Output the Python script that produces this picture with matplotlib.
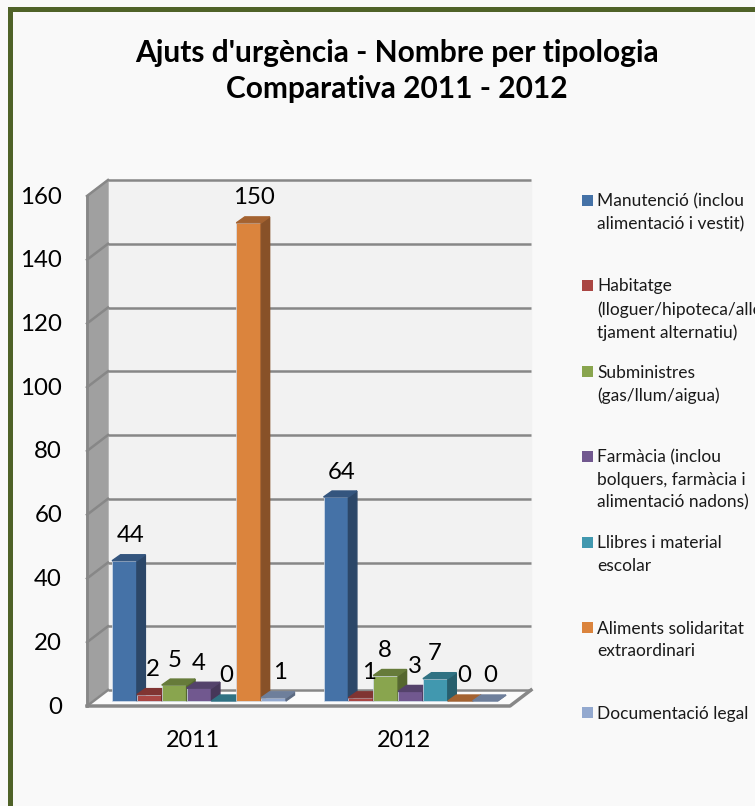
import matplotlib
matplotlib.use('Agg')
import matplotlib.pyplot as plt
from matplotlib.patches import Rectangle

plt.rcParams['font.family'] = ['Lato', 'DejaVu Sans']

W, H = 755, 806

years = ['2011', '2012']
tipologies = [
    'Manutenció (inclou\nalimentació i vestit)',
    'Habitatge\n(lloguer/hipoteca/allo\ntjament alternatiu)',
    'Subministres\n(gas/llum/aigua)',
    'Farmàcia (inclou\nbolquers, farmàcia i\nalimentació nadons)',
    'Llibres i material\nescolar',
    'Aliments solidaritat\nextraordinari',
    'Documentació legal',
]
values_2011 = [44, 2, 5, 4, 0, 150, 1]
values_2012 = [64, 1, 8, 3, 7, 0, 0]
y_ticks = [0, 20, 40, 60, 80, 100, 120, 140, 160]

colors = ['#4572a7', '#aa4643', '#89a54e', '#71588f', '#4198af', '#db843d', '#93a9cf']
tops = ['#34557e', '#803432', '#667b3a', '#54426b', '#307283', '#a46230', '#6e7f9b']
sides = ['#2c4768', '#6b2c2a', '#55672f', '#463759', '#285f6d', '#885128', '#5c6a81']

# posicions en pixels de la figura
legend_y = [200, 285, 371, 456, 542, 627, 712]
label_dx = [[6, 4, 0, 0, 2, 5, 6], [6, 8, -1, 4, -1, 4, 5]]

fig = plt.figure(figsize=(W / 100, H / 100), dpi=100, facecolor='#f9f9f9')

# marc
fig.add_artist(Rectangle((9.5 / W, -0.02), 1, 1 - 8.5 / H + 0.02, transform=fig.transFigure,
                         facecolor='#f9f9f9', edgecolor='#4f6228', linewidth=3.6, zorder=-1))

ax = fig.add_axes([92 / W, 1 - 701 / H, 423 / W, 510 / H])
ax.set_xlim(-0.5, 1.5)
ax.set_ylim(0, 160)
ax.axis('off')

px = 2 / 423  # un pixel en unitats x
py = 160 / 510  # un pixel en unitats y
x0, x1 = -0.5, 1.5
back_x, back_y = 16 * px, 11 * py
front_x, front_y = -5 * px, -5 * py

# parets
ax.fill([x0 + back_x, x1 + back_x, x1 + back_x, x0 + back_x],
        [back_y, back_y, 160 + back_y, 160 + back_y], color='#f2f2f2', clip_on=False, zorder=1)
ax.fill([x0 + front_x, x0 + back_x, x0 + back_x, x0 + front_x],
        [front_y, back_y, 160 + back_y, 160 + front_y], color='#a0a0a0', clip_on=False, zorder=1)
ax.fill([x0 + front_x, x1 + front_x, x1 + back_x, x0 + back_x],
        [front_y, front_y, back_y, back_y], color='#fbfbfb', clip_on=False, zorder=1)

grid = '#878787'
for t in y_ticks:
    ax.plot([x0 + back_x, x1 + back_x], [t + back_y, t + back_y], color=grid, lw=1.8,
            clip_on=False, zorder=2, solid_capstyle='butt')
    ax.plot([x0 + front_x, x0 + back_x], [t + front_y, t + back_y], color=grid, lw=1.8,
            clip_on=False, zorder=2)
    ax.text(x0 - 30 * px, t - 6 * py, str(t), ha='right', va='center', fontsize=17.3,
            color='black')
ax.plot([x0 + front_x, x0 + front_x], [front_y, 160 + front_y], color=grid, lw=2, clip_on=False, zorder=2)
ax.plot([x0 + front_x, x1 + front_x, x1 + back_x], [front_y, front_y, back_y], color=grid, lw=2.5,
        clip_on=False, zorder=2)

# barres
bw = 24.85 * px
dx, dy = 8.5 * px, 6 * py
n = len(tipologies)
for g, vals in enumerate([values_2011, values_2012]):
    for i, v in enumerate(vals):
        l = g + 0.006 + (i - n / 2) * bw
        r = l + bw
        ax.bar(l, v, width=bw, align='edge', color=colors[i], clip_on=False, zorder=3 + i * 0.1,
               edgecolor='#d5dfec', linewidth=0.5)
        ax.fill([r, r + dx, r + dx, r], [0, dy, v + dy, v], color=sides[i], clip_on=False, zorder=3 + i * 0.1)
        ax.fill([l, l + dx, r + dx, r], [v, v + dy, v + dy, v], color=tops[i], clip_on=False, zorder=3 + i * 0.1)
        ax.annotate(str(v), ((l + r) / 2, v), xytext=(label_dx[g][i] * 0.72, 18), textcoords='offset points',
                    ha='center', va='center', fontsize=17.3, color='black', zorder=10, annotation_clip=False)
    ax.text(g - 5 * px, -39.5 * py, years[g], ha='center', va='center', fontsize=16.8, color='black', clip_on=False)

# titol
fig.text(397 / W, 1 - 71 / H, "Ajuts d'urgència - Nombre per tipologia\nComparativa 2011 - 2012",
         ha='center', va='center', fontsize=21.5, fontweight='bold', linespacing=1.35, color='black')

# llegenda
for name, c, ly in zip(tipologies, colors, legend_y):
    fig.add_artist(Rectangle((582 / W, 1 - (ly + 5.5) / H), 11 / W, 11 / H,
                             transform=fig.transFigure, facecolor=c, edgecolor='none'))
    fig.text(597 / W, 1 - (ly - 6.5) / H, name, ha='left', va='top', fontsize=12.5, linespacing=1.5,
             color='#1a1a1a')

fig.savefig('out.png', dpi=100)
